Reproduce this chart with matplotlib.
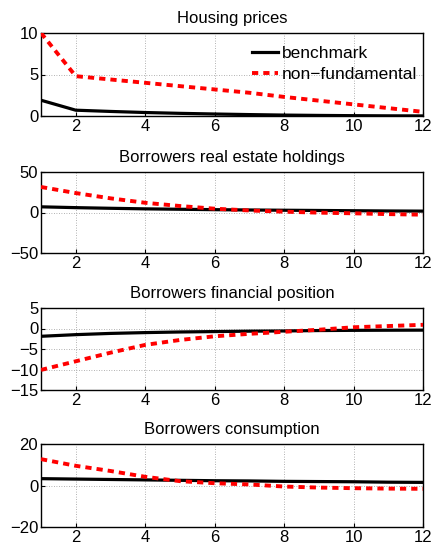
import numpy as np
import matplotlib
matplotlib.use("Agg")
import matplotlib.pyplot as plt

plt.rcParams['font.family'] = ['Liberation Sans', 'DejaVu Sans']

periods = np.arange(1, 13)

titles = ["Housing prices", "Borrowers real estate holdings",
          "Borrowers financial position", "Borrowers consumption"]

# benchmark responses
house_bench = [1.9, 0.7, 0.55, 0.42, 0.32, 0.24, 0.17, 0.11, 0.07, 0.04, 0.02, 0.01]
realestate_bench = [7.0, 6.0, 5.2, 4.5, 4.0, 3.5, 3.1, 2.8, 2.5, 2.2, 1.9, 1.7]
finpos_bench = [-1.9, -1.5, -1.2, -1.0, -0.85, -0.75, -0.65, -0.6, -0.5, -0.45, -0.42, -0.4]
cons_bench = [3.3, 3.1, 2.9, 2.7, 2.5, 2.3, 2.2, 2.0, 1.9, 1.8, 1.6, 1.5]

# non-fundamental responses
house_nf = [10.0, 4.8, 4.4, 4.0, 3.6, 3.2, 2.8, 2.3, 1.85, 1.4, 0.95, 0.5]
realestate_nf = [31.5, 24.0, 17.5, 12.0, 8.0, 4.7, 2.5, 1.0, -0.2, -1.0, -2.0, -2.7]
finpos_nf = [-10.1, -8.0, -5.9, -4.0, -2.8, -1.9, -1.3, -0.8, -0.3, 0.3, 0.6, 0.9]
cons_nf = [12.7, 9.5, 7.0, 4.2, 2.1, 1.1, 0.5, -0.5, -1.0, -1.3, -1.5, -1.6]

bench = [house_bench, realestate_bench, finpos_bench, cons_bench]
nonfund = [house_nf, realestate_nf, finpos_nf, cons_nf]

ylims = [(0, 10), (-50, 50), (-15, 5), (-20, 20)]
yticks = [[0, 5, 10], [-50, 0, 50], [-15, -10, -5, 0, 5], [-20, 0, 20]]

fig = plt.figure(figsize=(4.33, 5.47), dpi=100)

# axes boxes in pixels (top, bottom)
boxes = [(33, 116), (172, 253), (308, 390), (444, 527)]
left, right = 41, 423
W, H = 433, 547

for i in range(4):
    top, bot = boxes[i]
    ax = fig.add_axes([left / W, 1 - bot / H, (right - left) / W, (bot - top) / H])
    ax.plot(periods, bench[i], color='black', lw=2.3, label='benchmark', zorder=3)
    ax.plot(periods, nonfund[i], color='red', lw=2.8, ls=(0, (1.6, 1.3)),
            label='non\u2212fundamental', zorder=4)
    ax.set_xlim(1, 12)
    ax.set_ylim(*ylims[i])
    ax.set_xticks([2, 4, 6, 8, 10, 12])
    ax.set_yticks(yticks[i])
    ax.set_yticklabels([str(t).replace('-', '\u2212') for t in yticks[i]])
    ax.grid(True, color='#999999', ls=(0, (1, 2)), lw=0.6)
    ax.tick_params(direction='in', labelsize=12, length=3, pad=2)
    for s in ax.spines.values():
        s.set_linewidth(1.0)
    ax.set_title(titles[i], fontsize=12, pad=7)
    if i == 0:
        ax.legend(loc='upper right', bbox_to_anchor=(0.985, 0.85), frameon=False,
                  fontsize=12.5, handlelength=1.5, handletextpad=0.25,
                  borderaxespad=0.0, labelspacing=0.35, borderpad=0.0)

fig.savefig("out.png", dpi=100)
